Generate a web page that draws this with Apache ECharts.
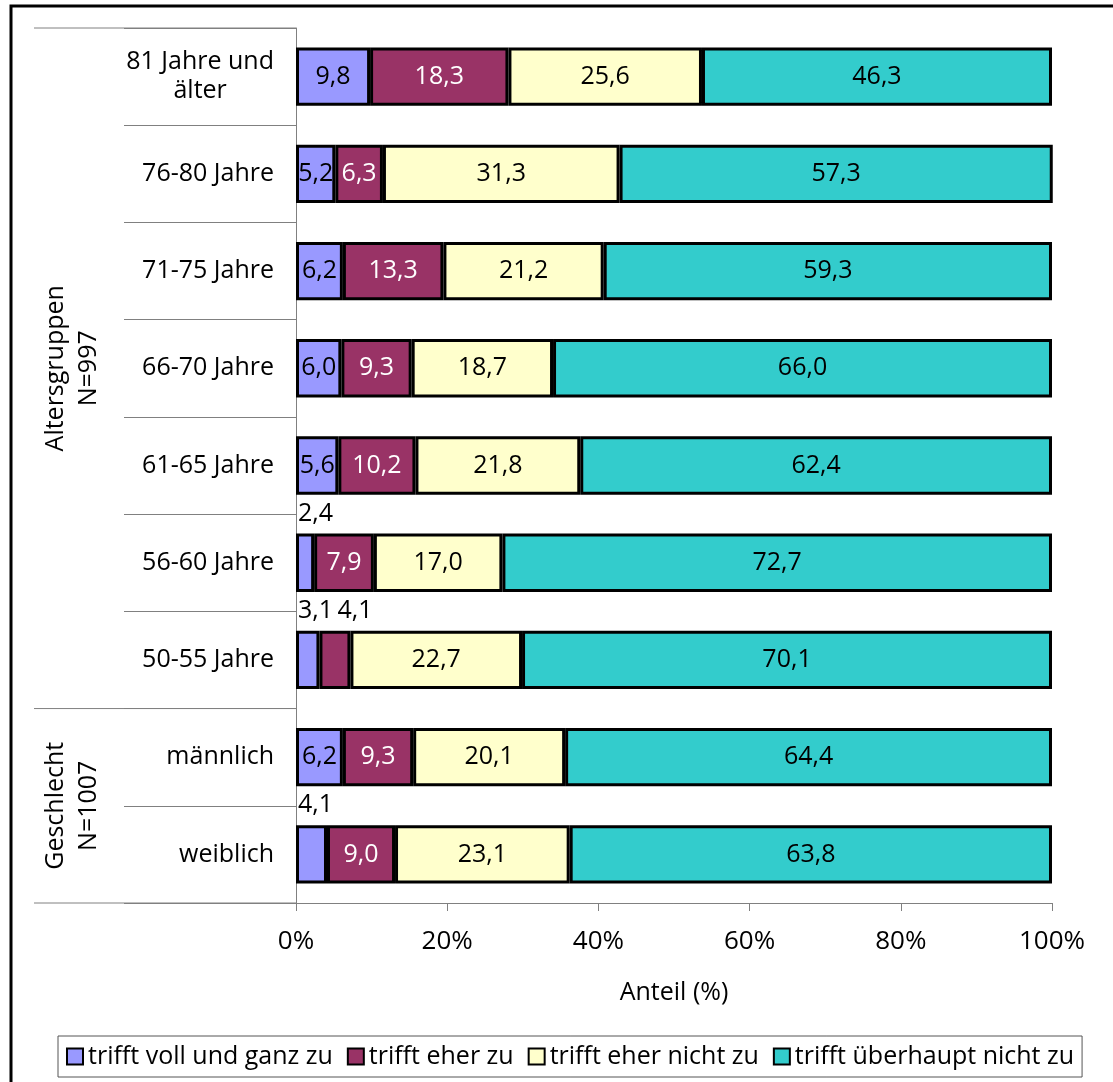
<!DOCTYPE html>
<html lang="de">
<head>
<meta charset="UTF-8">
<title>Anteil</title>
<script src="https://cdn.jsdelivr.net/npm/echarts@6/dist/echarts.min.js"></script>
<style>
    html, body { margin: 0; padding: 0; background: #fff; }
    #main { width: 1113px; height: 1082px; }
</style>
</head>
<body>
<div id="main"></div>
<script>
// Daten
var categories = ['81 Jahre und\nälter', '76-80 Jahre', '71-75 Jahre', '66-70 Jahre', '61-65 Jahre',
                  '56-60 Jahre', '50-55 Jahre', 'männlich', 'weiblich'];
var seriesNames = ['trifft voll und ganz zu', 'trifft eher zu', 'trifft eher nicht zu', 'trifft überhaupt nicht zu'];
var vollUndGanz     = [9.8, 5.2, 6.2, 6.0, 5.6, 2.4, 3.1, 6.2, 4.1];
var eherZu          = [18.3, 6.3, 13.3, 9.3, 10.2, 7.9, 4.1, 9.3, 9.0];
var eherNicht       = [25.6, 31.3, 21.2, 18.7, 21.8, 17.0, 22.7, 20.1, 23.1];
var ueberhauptNicht = [46.3, 57.3, 59.3, 66.0, 62.4, 72.7, 70.1, 64.4, 63.8];
var xTicks = [0, 20, 40, 60, 80, 100];
var groupNames = ['Altersgruppen\nN=997', 'Geschlecht\nN=1007'];
var groupFrom  = [0, 7];
var groupTo    = [6, 8];

var values = [vollUndGanz, eherZu, eherNicht, ueberhauptNicht];
var colors = ['#9999ff', '#993366', '#ffffcc', '#33cccc'];
var font = 'Open Sans';
var fs = 25;

function fmt(v) { return v.toFixed(1).replace('.', ','); }

var series = values.map(function (arr, s) {
    return {
        name: seriesNames[s],
        type: 'bar',
        stack: 'total',
        barCategoryGap: '40%',
        emphasis: { disabled: true },
        itemStyle: { color: colors[s], borderColor: '#000', borderWidth: 3 },
        label: {
            show: true, position: 'inside',
            formatter: function (p) { return fmt(p.value); },
            color: s === 1 ? '#fff' : '#000',
            textBorderWidth: 0,
            fontFamily: font, fontSize: fs
        },
        data: arr.map(function (v, i) {
            if (v >= 5) return v;
            // zu schmal: Beschriftung über dem Balken
            var shift = (s > 0 && values[s - 1][i] < 5) ? 16 : 0;
            return { value: v, label: { position: [2 + shift, -20], align: 'left', verticalAlign: 'middle', color: '#000' } };
        })
    };
});

var chart = echarts.init(document.getElementById('main'));
chart.setOption({
    animation: false,
    backgroundColor: '#fff',
    grid: { left: 296, right: 61, top: 28, bottom: 179 },
    legend: {
        data: seriesNames, left: 58, top: 1036,
        itemWidth: 16, itemHeight: 16, itemGap: 14, icon: 'rect',
        borderColor: '#555', borderWidth: 1, padding: [8, 8],
        textStyle: { fontFamily: font, fontSize: fs, color: '#000' }
    },
    xAxis: {
        type: 'value', min: xTicks[0], max: xTicks[xTicks.length - 1], interval: xTicks[1] - xTicks[0],
        axisLine: { show: true, lineStyle: { color: '#808080' } },
        axisTick: { show: true, length: 8, lineStyle: { color: '#808080' } },
        splitLine: { show: false },
        axisLabel: { formatter: '{value}%', margin: 26, color: '#000', fontFamily: font, fontSize: 26 },
        name: 'Anteil (%)', nameLocation: 'middle', nameGap: 77,
        nameTextStyle: { color: '#000', fontFamily: font, fontSize: fs }
    },
    yAxis: {
        type: 'category', inverse: true, data: categories,
        axisLine: { show: true, lineStyle: { color: '#808080' } },
        axisTick: { show: true, length: 172, lineStyle: { color: '#808080' } },
        axisLabel: {
            interval: 0, margin: 22,
            formatter: function (v) { return v.split('\n').map(function (t) { return '{c|' + t + '}'; }).join('\n'); },
            rich: { c: { align: 'center', fontFamily: font, fontSize: fs, color: '#000', lineHeight: 29 } }
        }
    },
    series: series
});

// Gruppen-Trennlinien und Gruppenbeschriftung
var c0 = chart.convertToPixel({ yAxisIndex: 0 }, categories[0]);
var band = chart.convertToPixel({ yAxisIndex: 0 }, categories[1]) - c0;
function edge(i) { return c0 + band * i - band / 2; }
var x0 = chart.convertToPixel({ xAxisIndex: 0 }, 0);

var graphic = [{
    type: 'rect', silent: true,
    shape: { x: 11, y: 6, width: 1300, height: 1300 },
    style: { fill: 'none', stroke: '#000', lineWidth: 3 }
}];
[0, 7, 9].forEach(function (i) {
    graphic.push({
        type: 'line', silent: true,
        shape: { x1: 34, y1: edge(i), x2: x0, y2: edge(i) },
        style: { stroke: '#808080', lineWidth: 1 }
    });
});
groupNames.forEach(function (name, g) {
    graphic.push({
        type: 'text', silent: true,
        x: 72, y: (edge(groupFrom[g]) + edge(groupTo[g] + 1)) / 2,
        rotation: Math.PI / 2,
        style: {
            text: name, fill: '#000', fontFamily: font, fontSize: fs,
            align: 'center', verticalAlign: 'middle', lineHeight: 33
        }
    });
});
chart.setOption({ graphic: graphic });
</script>
</body>
</html>
